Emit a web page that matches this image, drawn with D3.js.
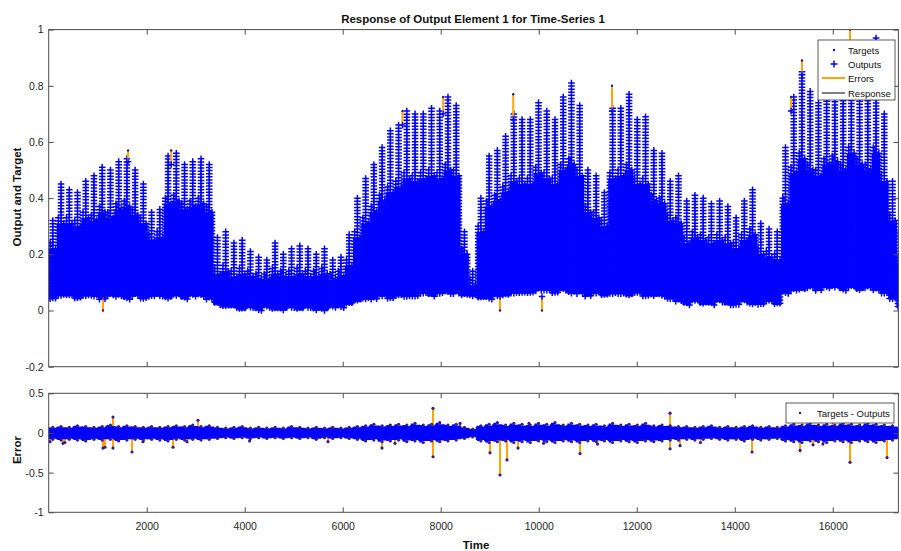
<!DOCTYPE html>
<html>
<head>
<meta charset="utf-8">
<script src="https://cdn.jsdelivr.net/npm/d3@7"></script>
<style>
  body { margin: 0; background: #fff; }
  text { font-family: "Liberation Sans", Arial, Helvetica, sans-serif; }
</style>
</head>
<body>
<svg id="chart" width="901" height="551"></svg>
<script>
// ---- data (one bin = one week of hourly samples) ----
const binLength = 168;
const totalSteps = 17340;

// highest output reached in each week
const outputPeak = [
  0.32,0.45,0.43,0.42,0.46,0.48,0.51,0.50,0.53,0.54,
  0.50,0.45,0.35,0.36,0.55,0.56,0.52,0.53,0.54,0.52,
  0.26,0.28,0.24,0.25,0.21,0.19,0.18,0.24,0.20,0.22,
  0.23,0.22,0.20,0.22,0.18,0.19,0.27,0.40,0.47,0.52,
  0.58,0.64,0.66,0.71,0.70,0.70,0.72,0.71,0.76,0.73,
  0.28,0.14,0.40,0.55,0.57,0.62,0.70,0.68,0.68,0.74,
  0.71,0.68,0.76,0.81,0.73,0.50,0.48,0.42,0.72,0.72,
  0.77,0.68,0.69,0.57,0.56,0.46,0.48,0.39,0.41,0.40,
  0.38,0.39,0.37,0.33,0.39,0.43,0.31,0.29,0.28,0.58,
  0.76,0.85,0.78,0.74,0.80,0.82,0.78,0.88,0.80,0.78,
  0.97,0.70,0.46,0.28
];
// typical daily high within each week (below it the week is densely filled)
const outputBody = [
  0.24,0.33,0.33,0.32,0.35,0.34,0.37,0.35,0.38,0.39,
  0.36,0.33,0.27,0.28,0.40,0.41,0.38,0.39,0.40,0.37,
  0.15,0.16,0.14,0.15,0.14,0.13,0.13,0.15,0.14,0.14,
  0.15,0.14,0.14,0.15,0.13,0.14,0.18,0.28,0.33,0.37,
  0.41,0.44,0.46,0.49,0.48,0.49,0.50,0.49,0.52,0.50,
  0.22,0.11,0.30,0.39,0.41,0.44,0.48,0.47,0.47,0.51,
  0.49,0.47,0.52,0.54,0.50,0.37,0.35,0.32,0.49,0.50,
  0.52,0.47,0.47,0.41,0.40,0.34,0.33,0.26,0.28,0.27,
  0.26,0.27,0.26,0.24,0.27,0.29,0.22,0.21,0.20,0.40,
  0.51,0.56,0.52,0.50,0.54,0.55,0.52,0.58,0.54,0.52,
  0.58,0.48,0.34,0.19
];
// lowest output in each week
const outputLow = [
  0.04,0.05,0.05,0.04,0.05,0.05,0.04,0.05,0.05,0.04,
  0.05,0.04,0.05,0.05,0.04,0.05,0.04,0.05,0.05,0.04,
  0.02,0.01,0.01,0.00,0.01,0.00,0.01,0.00,0.00,0.01,
  0.00,0.01,0.00,0.00,0.01,0.01,0.02,0.03,0.04,0.04,
  0.05,0.04,0.05,0.05,0.05,0.06,0.05,0.06,0.06,0.06,
  0.05,0.05,0.04,0.04,0.05,0.05,0.06,0.06,0.06,0.07,
  0.07,0.06,0.07,0.06,0.06,0.05,0.06,0.05,0.06,0.06,
  0.05,0.06,0.05,0.05,0.05,0.04,0.03,0.02,0.03,0.02,
  0.02,0.03,0.02,0.02,0.03,0.02,0.02,0.03,0.02,0.06,
  0.07,0.07,0.08,0.07,0.08,0.08,0.07,0.08,0.07,0.08,
  0.07,0.06,0.04,0.01
];

// large target/output gaps visible in the response panel
const gapTime   = [1108, 1620, 2500, 7220, 8050, 9210, 9480, 10067, 11496, 15150, 15373, 16353];
const gapTarget = [0.00, 0.57, 0.57, 0.71, 0.76, 0.00, 0.77, 0.00, 0.80, 0.76, 0.89, 1.00];
const gapOutput = [0.05, 0.53, 0.52, 0.66, 0.70, 0.05, 0.68, 0.05, 0.71, 0.71, 0.84, 0.86];

// weekly error spread (targets - outputs)
const errorHigh = [
  0.07,0.08,0.07,0.09,0.08,0.07,0.08,0.10,0.08,0.09,
  0.08,0.07,0.08,0.07,0.08,0.09,0.08,0.10,0.08,0.09,
  0.07,0.06,0.07,0.08,0.06,0.07,0.06,0.07,0.06,0.08,
  0.07,0.06,0.07,0.06,0.07,0.06,0.07,0.08,0.09,0.11,
  0.09,0.10,0.11,0.10,0.12,0.10,0.11,0.13,0.10,0.11,
  0.07,0.05,0.09,0.11,0.13,0.10,0.12,0.11,0.10,0.12,
  0.11,0.13,0.10,0.12,0.11,0.10,0.11,0.09,0.12,0.10,
  0.11,0.10,0.12,0.09,0.10,0.09,0.08,0.08,0.07,0.08,
  0.09,0.07,0.08,0.07,0.08,0.09,0.07,0.08,0.07,0.09,
  0.11,0.10,0.12,0.10,0.11,0.10,0.12,0.11,0.10,0.12,
  0.11,0.10,0.09,0.07
];
const errorLow = [
  -0.08,-0.09,-0.08,-0.09,-0.10,-0.08,-0.09,-0.08,-0.10,-0.09,
  -0.08,-0.09,-0.08,-0.09,-0.10,-0.08,-0.09,-0.08,-0.09,-0.08,
  -0.07,-0.06,-0.07,-0.06,-0.07,-0.06,-0.07,-0.06,-0.07,-0.06,
  -0.07,-0.06,-0.08,-0.06,-0.07,-0.06,-0.07,-0.08,-0.10,-0.09,
  -0.11,-0.10,-0.09,-0.11,-0.10,-0.12,-0.10,-0.11,-0.10,-0.09,
  -0.07,-0.05,-0.10,-0.12,-0.11,-0.10,-0.12,-0.11,-0.12,-0.10,
  -0.11,-0.12,-0.10,-0.11,-0.12,-0.10,-0.11,-0.10,-0.12,-0.10,
  -0.11,-0.12,-0.10,-0.11,-0.10,-0.09,-0.09,-0.08,-0.09,-0.08,
  -0.07,-0.08,-0.09,-0.08,-0.10,-0.08,-0.09,-0.08,-0.07,-0.10,
  -0.11,-0.12,-0.10,-0.11,-0.12,-0.10,-0.11,-0.12,-0.10,-0.11,
  -0.12,-0.10,-0.09,-0.07
];
// isolated large errors
const spikeTime  = [27, 292, 330, 1108, 1149, 1312, 1312, 1700, 1924, 2537, 2822, 3047, 4100, 5700,
                    6802, 7067, 7843, 7843, 8394, 9006, 9210, 9353, 9578, 9800, 10100, 10843, 11200,
                    12680, 12680, 12884, 13300, 14353, 15333, 15598, 15800, 16000, 16353, 17108];
const spikeValue = [-0.11, -0.13, -0.12, -0.19, -0.18, 0.20, -0.19, -0.24, -0.11, -0.18, -0.11, 0.16, -0.10, -0.11,
                    -0.19, -0.13, 0.31, -0.30, 0.12, -0.25, -0.53, -0.34, -0.19, 0.12, -0.13, -0.26, -0.14,
                    0.25, -0.20, -0.16, -0.12, -0.24, -0.22, -0.15, -0.14, 0.14, -0.37, -0.31];

const xTickValues = [2000, 4000, 6000, 8000, 10000, 12000, 14000, 16000];
const responseTicks = [-0.2, 0, 0.2, 0.4, 0.6, 0.8, 1];
const errorTicks = [-1, -0.5, 0, 0.5];
const legendLabels = ["Targets", "Outputs", "Errors", "Response"];
const errorLegendLabel = "Targets - Outputs";

// ---- layout ----
const svg = d3.select("#chart");
const left = 48.7, right = 898.4;
const topPanel = { top: 29.6, bottom: 366.7 };
const errPanel = { top: 393.3, bottom: 512.3 };
const blue = "#0000ff", orange = "#ffa500", axisColor = "#4d4d4d", textColor = "#262626";

const x = d3.scaleLinear().domain([0, totalSteps]).range([left, right]);
const yTop = d3.scaleLinear().domain([-0.2, 1]).range([topPanel.bottom, topPanel.top]);
const yErr = d3.scaleLinear().domain([-1, 0.5]).range([errPanel.bottom, errPanel.top]);

const binStart = i => i * binLength;
const binCenter = i => i * binLength + binLength / 2;

const defs = svg.append("defs");
defs.append("clipPath").attr("id", "clipTop").append("rect")
  .attr("x", left).attr("y", topPanel.top).attr("width", right - left).attr("height", topPanel.bottom - topPanel.top);
defs.append("clipPath").attr("id", "clipErr").append("rect")
  .attr("x", left).attr("y", errPanel.top).attr("width", right - left).attr("height", errPanel.bottom - errPanel.top);

function plus(cx, cy, r) {
  return `M${cx - r},${cy}H${cx + r}M${cx},${cy - r}V${cy + r}`;
}
// a vertical stack of '+' markers between two values
function stack(cx, from, to, step, r) {
  let s = "";
  for (let v = to; v >= from - 1e-6; v -= step) s += plus(cx, yTop(v), r);
  return s;
}

// ---- response panel ----
const gTop = svg.append("g").attr("clip-path", "url(#clipTop)");
const bins = outputPeak.map((p, i) => ({ i, peak: p, body: outputBody[i], low: outputLow[i] }));

// response line stems
gTop.append("g").selectAll("line").data(bins).join("line")
  .attr("x1", d => x(binCenter(d.i))).attr("x2", d => x(binCenter(d.i)))
  .attr("y1", d => yTop(d.low)).attr("y2", d => yTop(d.peak))
  .attr("stroke", "#111").attr("stroke-width", 1);

// dense core of each week: from the weekly low to the typical daily high
gTop.append("g").selectAll("rect").data(bins).join("rect")
  .attr("x", d => x(binStart(d.i)) - 0.3)
  .attr("width", d => x(binStart(d.i) + binLength) - x(binStart(d.i)) + 0.6)
  .attr("y", d => yTop(d.body) + 6)
  .attr("height", d => Math.max(0, yTop(d.low) - yTop(d.body) - 6))
  .attr("fill", blue);

// stacked output markers
gTop.append("g").selectAll("path").data(bins).join("path")
  .attr("d", d => {
    const c = x(binCenter(d.i)), w = (x(binLength) - x(0)) / 3;
    return stack(c, d.low, d.peak, 0.011, 3.3)
      + stack(c - w, d.low, d.body, 0.011, 3.3)
      + stack(c + w, d.low, d.body - 0.02, 0.011, 3.3);
  })
  .attr("fill", "none").attr("stroke", blue).attr("stroke-width", 1.5);

// target/output gaps
const gaps = gapTime.map((t, k) => ({ t, target: gapTarget[k], output: gapOutput[k] }));
gTop.append("g").selectAll("line").data(gaps).join("line")
  .attr("x1", d => x(d.t)).attr("x2", d => x(d.t))
  .attr("y1", d => yTop(d.target)).attr("y2", d => yTop(d.output))
  .attr("stroke", orange).attr("stroke-width", 2);
gTop.append("g").selectAll("path").data(gaps).join("path")
  .attr("d", d => plus(x(d.t), yTop(d.output), 3.2))
  .attr("stroke", blue).attr("stroke-width", 1.4).attr("fill", "none");
gTop.append("g").selectAll("circle").data(gaps).join("circle")
  .attr("cx", d => x(d.t)).attr("cy", d => yTop(d.target)).attr("r", 1.2).attr("fill", "#202080");

// ---- error panel ----
const gErr = svg.append("g").attr("clip-path", "url(#clipErr)");
const errBins = errorHigh.map((h, i) => ({ i, hi: h, lo: errorLow[i] }));
const errStep = errBins.concat([{ i: errBins.length, hi: errorHigh[errBins.length - 1], lo: errorLow[errBins.length - 1], end: true }]);

const spikes = spikeTime.map((t, k) => ({ t, v: spikeValue[k] }));
gErr.append("g").selectAll("line").data(spikes).join("line")
  .attr("x1", d => x(d.t)).attr("x2", d => x(d.t))
  .attr("y1", yErr(0)).attr("y2", d => yErr(d.v))
  .attr("stroke", orange).attr("stroke-width", 2);

gErr.append("path")
  .datum(errStep)
  .attr("d", d3.area()
    .x(d => x(d.end ? totalSteps : binStart(d.i)))
    .y0(d => yErr(d.lo * 0.75))
    .y1(d => yErr(d.hi * 0.75))
    .curve(d3.curveStepAfter))
  .attr("fill", blue).attr("stroke", blue).attr("stroke-width", 2);

// outer fringe of the error spread
gErr.append("g").selectAll("path").data(errBins).join("path")
  .attr("d", d => {
    const cx = x(binCenter(d.i));
    return `M${cx - 2.5},${yErr(d.hi)}V${yErr(d.lo)}`;
  })
  .attr("stroke", blue).attr("stroke-width", 3);
gErr.append("g").selectAll("circle").data(errBins.flatMap(d => [
    { t: binCenter(d.i), v: d.hi }, { t: binCenter(d.i), v: d.lo }]))
  .join("circle")
  .attr("cx", d => x(d.t)).attr("cy", d => yErr(d.v)).attr("r", 1.6).attr("fill", "#3a1a8a");

gErr.append("g").selectAll("circle").data(spikes).join("circle")
  .attr("cx", d => x(d.t)).attr("cy", d => yErr(d.v)).attr("r", 1.6).attr("fill", "#3a1a8a");

// ---- axes ----
function drawAxes(panel, y, yTicks, showXLabels) {
  const g = svg.append("g");
  const fmt = d => String(d);
  const strip = sel => sel.select(".domain").remove();
  g.append("g").attr("transform", `translate(0,${panel.bottom})`)
    .call(d3.axisBottom(x).tickValues(xTickValues).tickSizeInner(-5).tickSizeOuter(0).tickPadding(10)
      .tickFormat(showXLabels ? fmt : () => ""))
    .call(strip);
  g.append("g").attr("transform", `translate(0,${panel.top})`)
    .call(d3.axisTop(x).tickValues(xTickValues).tickSizeInner(-5).tickSizeOuter(0).tickFormat(() => ""))
    .call(strip);
  g.append("g").attr("transform", `translate(${left},0)`)
    .call(d3.axisLeft(y).tickValues(yTicks).tickSizeInner(-5).tickSizeOuter(0).tickPadding(5).tickFormat(fmt))
    .call(strip);
  g.append("g").attr("transform", `translate(${right},0)`)
    .call(d3.axisRight(y).tickValues(yTicks).tickSizeInner(-5).tickSizeOuter(0).tickFormat(() => ""))
    .call(strip);
  g.selectAll(".tick line").attr("stroke", axisColor);
  g.selectAll(".tick text").attr("fill", textColor).style("font-size", "10.5px").attr("font-family", null);
  g.append("rect").attr("x", left).attr("y", panel.top)
    .attr("width", right - left).attr("height", panel.bottom - panel.top)
    .attr("fill", "none").attr("stroke", axisColor).attr("stroke-width", 1);
}
drawAxes(topPanel, yTop, responseTicks, false);
drawAxes(errPanel, yErr, errorTicks, true);

// ---- titles ----
svg.append("text").attr("x", 473).attr("y", 23).attr("text-anchor", "middle")
  .attr("font-weight", "bold").attr("font-size", 11.5).attr("fill", "#111")
  .text("Response of Output Element 1 for Time-Series 1");
svg.append("text").attr("transform", "translate(21,197) rotate(-90)").attr("text-anchor", "middle")
  .attr("font-weight", "bold").attr("font-size", 11.5).attr("fill", "#111").text("Output and Target");
svg.append("text").attr("transform", "translate(21,450) rotate(-90)").attr("text-anchor", "middle")
  .attr("font-weight", "bold").attr("font-size", 11.5).attr("fill", "#111").text("Error");
svg.append("text").attr("x", 476).attr("y", 549).attr("text-anchor", "middle")
  .attr("font-weight", "bold").attr("font-size", 11.5).attr("fill", "#111").text("Time");

// ---- legends ----
const lg = svg.append("g");
lg.append("rect").attr("x", 818).attr("y", 40).attr("width", 77).attr("height", 60)
  .attr("fill", "#fff").attr("stroke", "#333").attr("stroke-width", 0.8);
const rowY = [50, 64, 78, 93];
legendLabels.forEach((label, k) => {
  lg.append("text").attr("x", 848).attr("y", rowY[k] + 3.5).attr("font-size", 9.5).attr("fill", "#111").text(label);
});
lg.append("circle").attr("cx", 834).attr("cy", rowY[0]).attr("r", 1.2).attr("fill", blue);
lg.append("path").attr("d", plus(834, rowY[1], 3.5)).attr("stroke", blue).attr("stroke-width", 1.5);
lg.append("line").attr("x1", 822).attr("x2", 845).attr("y1", rowY[2]).attr("y2", rowY[2]).attr("stroke", orange).attr("stroke-width", 2);
lg.append("line").attr("x1", 822).attr("x2", 845).attr("y1", rowY[3]).attr("y2", rowY[3]).attr("stroke", "#000").attr("stroke-width", 1);

const lg2 = svg.append("g");
lg2.append("rect").attr("x", 786).attr("y", 403).attr("width", 108).attr("height", 20)
  .attr("fill", "#fff").attr("stroke", "#333").attr("stroke-width", 0.8);
lg2.append("circle").attr("cx", 800).attr("cy", 413).attr("r", 1.2).attr("fill", "#3a1a8a");
lg2.append("text").attr("x", 817).attr("y", 416.5).attr("font-size", 9.5).attr("fill", "#111").text(errorLegendLabel);
</script>
</body>
</html>
